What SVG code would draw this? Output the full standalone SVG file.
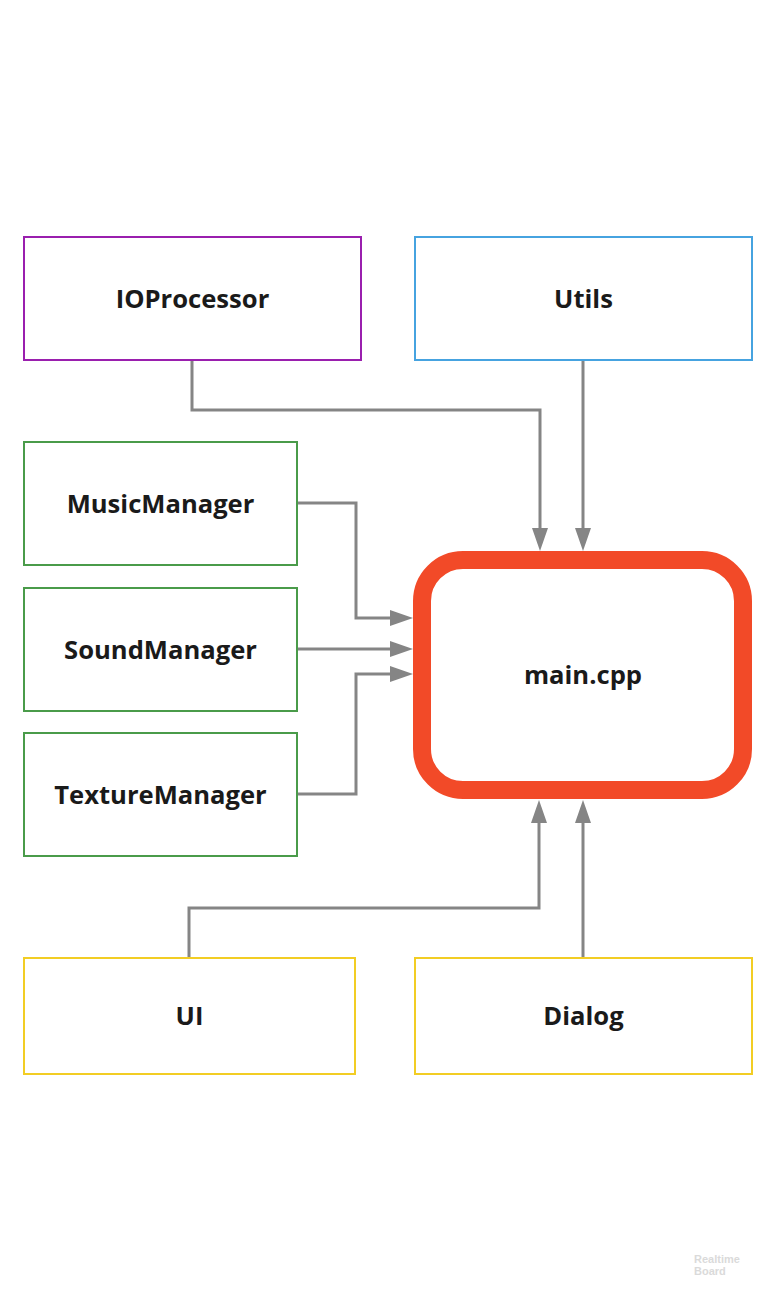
<svg xmlns="http://www.w3.org/2000/svg" width="774" height="1291" viewBox="0 0 774 1291">
  <style>
    .box { fill: #ffffff; stroke-width: 2; }
    .purple { stroke: #9A1FAE; }
    .blue { stroke: #46A3E0; }
    .green { stroke: #4A9B4A; }
    .yellow { stroke: #F2CD24; }
    .main { fill: #ffffff; stroke: #F24A28; stroke-width: 18; }
    .label { font-family: "Open Sans", "Noto Sans", sans-serif; font-weight: bold; font-size: 25.6px; fill: #1a1a1a; text-anchor: middle; }
    .conn { fill: none; stroke: #858585; stroke-width: 3; }
    .wm { font-family: "Liberation Sans", Arial, sans-serif; font-weight: bold; font-size: 11px; fill: #dadada; }
  </style>
  <defs>
    <marker id="arrow" markerUnits="userSpaceOnUse" markerWidth="23" markerHeight="16" viewBox="0 0 23 16" refX="17" refY="8" orient="auto">
      <path d="M0,0 L23,8 L0,16 z" fill="#858585"/>
    </marker>
  </defs>
  <rect width="774" height="1291" fill="#ffffff"/>

  <g id="connectors">
    <path class="conn" d="M192,361 V410 H540 V545" marker-end="url(#arrow)"/>
    <path class="conn" d="M583,361 V545" marker-end="url(#arrow)"/>
    <path class="conn" d="M298,503 H356 V618 H407" marker-end="url(#arrow)"/>
    <path class="conn" d="M298,649 H407" marker-end="url(#arrow)"/>
    <path class="conn" d="M298,794 H356 V674 H407" marker-end="url(#arrow)"/>
    <path class="conn" d="M189,957 V908 H539 V806" marker-end="url(#arrow)"/>
    <path class="conn" d="M583,957 V806" marker-end="url(#arrow)"/>
  </g>

  <g id="node-ioprocessor">
    <rect class="box purple" x="24" y="237" width="337" height="123"/>
    <text class="label" x="192.5" y="308">IOProcessor</text>
  </g>
  <g id="node-utils">
    <rect class="box blue" x="415" y="237" width="337" height="123"/>
    <text class="label" x="583.5" y="308">Utils</text>
  </g>
  <g id="node-musicmanager">
    <rect class="box green" x="24" y="442" width="273" height="123"/>
    <text class="label" x="160.5" y="513">MusicManager</text>
  </g>
  <g id="node-soundmanager">
    <rect class="box green" x="24" y="588" width="273" height="123"/>
    <text class="label" x="160.5" y="658.5">SoundManager</text>
  </g>
  <g id="node-texturemanager">
    <rect class="box green" x="24" y="733" width="273" height="123"/>
    <text class="label" x="160.5" y="803.5">TextureManager</text>
  </g>
  <g id="node-main">
    <rect class="main" x="422" y="560" width="321" height="230" rx="41" ry="41"/>
    <text class="label" x="583" y="684">main.cpp</text>
  </g>
  <g id="node-ui">
    <rect class="box yellow" x="24" y="958" width="331" height="116"/>
    <text class="label" x="189.5" y="1025">UI</text>
  </g>
  <g id="node-dialog">
    <rect class="box yellow" x="415" y="958" width="337" height="116"/>
    <text class="label" x="583.5" y="1025">Dialog</text>
  </g>

  <g id="watermark">
    <text class="wm" x="694" y="1263">Realtime</text>
    <text class="wm" x="694" y="1275">Board</text>
  </g>
</svg>
